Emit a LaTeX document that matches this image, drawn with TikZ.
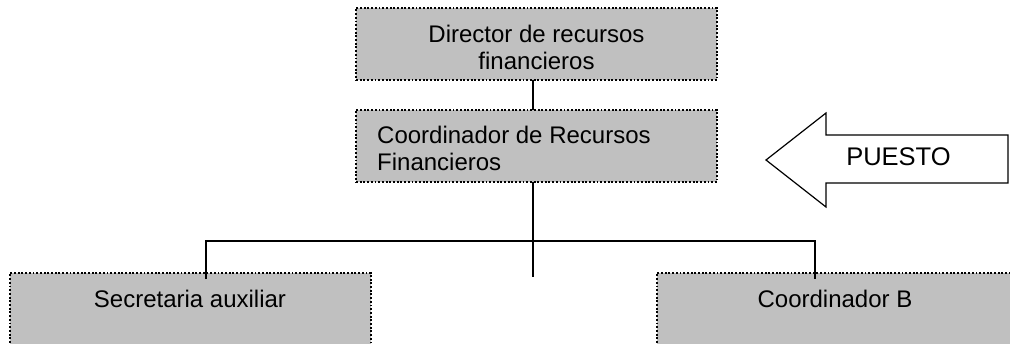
\documentclass[tikz,border=0pt]{standalone}
\usepackage{fontspec}
\setmainfont{Liberation Sans}
\usetikzlibrary{calc}
\definecolor{boxgray}{RGB}{192,192,192}
\begin{document}
\begin{tikzpicture}[x=1pt,y=-1pt,
  box/.style={draw=black, fill=boxgray, line width=1.9pt, dash pattern=on 1.9pt off 1.8pt,
              minimum width=361pt, minimum height=72pt, inner sep=0pt, outer sep=0pt},
  lbl/.style={inner sep=0pt, font=\fontsize{24}{27}\selectfont},
  conn/.style={line width=1.2pt}]
\useasboundingbox (0,0) rectangle (1010,343);
\clip (0,0) rectangle (1010,343);
% boxes
\node[box] (dir) at (536.5,44) {};
\node[box] (coord) at (536.5,146) {};
\node[box] (sec) at (190.5,309) {};
\node[box] (cb) at (837.5,309) {};
% texts
\node[lbl, align=center, anchor=north] (tdir) at (536.5,24.5) {Director de recursos\\financieros};
\node[lbl, align=left, anchor=north west] (tcoord) at (377,125.5) {Coordinador de Recursos\\Financieros};
\node[lbl, anchor=base] (tsec) at (190,307) {Secretaria auxiliar};
\node[lbl, anchor=base] (tcb) at (835,307) {Coordinador B};
% arrow
\draw[line width=1.2pt, line join=miter] (766,160) -- (826,113) -- (826,135) -- (1008,135)
  -- (1008,183) -- (826,183) -- (826,207) -- cycle;
\node[lbl, font=\fontsize{25.5}{28}\selectfont, anchor=base] (puesto) at (898.5,165) {PUESTO};
% connectors
\coordinate (bus) at (533,241);
\coordinate (bl) at (206,241);
\coordinate (br) at (815,241);
\coordinate (stub) at (533,277);
\draw[conn] (dir.south -| bus) -- (coord.north -| bus);
\draw[conn] (coord.south -| bus) -- (stub);
\draw[conn] ($(bl |- sec.north)+(0,6)$) -- (bl) -- (br) -- ($(br |- cb.north)+(0,6)$);
\end{tikzpicture}
\end{document}
